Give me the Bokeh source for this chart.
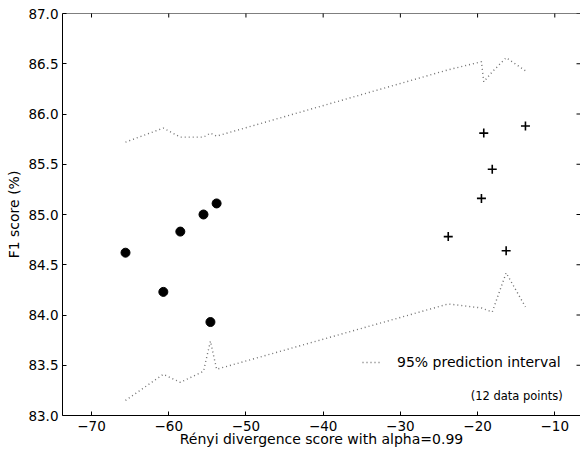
import math
from bokeh.plotting import figure
from bokeh.models import Range1d, Label, Legend, LegendItem, FixedTicker, Span
from bokeh.embed import file_html
from bokeh.resources import INLINE

# data points
renyi_dot = [-65.6, -60.7, -58.5, -55.5, -54.6, -53.8]
f1_dot = [84.62, 84.23, 84.83, 85.00, 83.93, 85.11]
renyi_plus = [-23.8, -19.5, -19.2, -18.1, -16.3, -13.8]
f1_plus = [84.78, 85.16, 85.81, 85.45, 84.64, 85.88]

# 95% prediction interval, evaluated at the sorted data x values
pi_x = [-65.6, -60.7, -58.5, -55.5, -54.6, -53.8, -23.8, -19.5, -19.2, -18.1, -16.3, -13.8]
pi_upper = [85.72, 85.86, 85.77, 85.77, 85.81, 85.78, 86.44, 86.52, 86.32, 86.42, 86.56, 86.43]
pi_lower = [83.15, 83.41, 83.33, 83.44, 83.74, 83.46, 84.11, 84.07, 84.06, 84.03, 84.42, 84.08]

x_ticks = [-70, -60, -50, -40, -30, -20, -10]
x_tick_labels = ["\u221270", "\u221260", "\u221250", "\u221240", "\u221230", "\u221220", "\u221210"]
y_ticks = [83.0, 83.5, 84.0, 84.5, 85.0, 85.5, 86.0, 86.5, 87.0]
y_tick_labels = ["83.0", "83.5", "84.0", "84.5", "85.0", "85.5", "86.0", "86.5", "87.0"]

FONT = "DejaVu Sans"

x_range = Range1d(-73.76, -6.67)
y_range = Range1d(83.0, 87.0)

p = figure(width=580, height=450, output_backend="svg", toolbar_location=None,
           x_range=x_range, y_range=y_range,
           min_border_left=62, min_border_top=13, min_border_bottom=35, min_border_right=0)
p.grid.visible = False
p.outline_line_color = None
p.background_fill_color = "white"
p.border_fill_color = "white"

for ax in (p.xaxis[0], p.yaxis[0]):
    ax.major_tick_in = 4
    ax.major_tick_out = 0
    ax.minor_tick_line_color = None
    ax.axis_line_color = "black"
    ax.axis_line_width = 1
    ax.major_tick_line_color = "black"
    ax.major_label_text_font = FONT
    ax.major_label_text_font_size = "13.5px"
    ax.major_label_text_color = "black"
    ax.axis_label_text_font = FONT
    ax.axis_label_text_font_size = "14px"
    ax.axis_label_text_font_style = "normal"
    ax.axis_label_text_color = "black"

xa = p.xaxis[0]
ya = p.yaxis[0]
xa.ticker = FixedTicker(ticks=x_ticks)
xa.major_label_overrides = {t: l for t, l in zip(x_ticks, x_tick_labels)}
ya.ticker = FixedTicker(ticks=y_ticks)
ya.major_label_overrides = {t: l for t, l in zip(y_ticks, y_tick_labels)}
xa.axis_label = "Rényi divergence score with alpha=0.99"
ya.axis_label = "F1 score (%)"
xa.major_label_standoff = 5
ya.major_label_standoff = 4
xa.axis_label_standoff = -3
ya.axis_label_standoff = 3

# top spine and inward ticks on the top and right edges (mirroring the tick lists)
p.add_layout(Span(location=y_range.end, dimension="width", line_color="black", line_width=1))
p.scatter(x_ticks, [y_range.end] * len(x_ticks), marker="dash", angle=math.pi / 2,
          size=8, line_color="black", line_width=1)
p.scatter([x_range.end] * len(y_ticks), y_ticks, marker="dash",
          size=8, line_color="black", line_width=1)

upper = p.line(pi_x, pi_upper, line_color="#707070", line_width=1.4, line_dash="1 3")
p.line(pi_x, pi_lower, line_color="#707070", line_width=1.4, line_dash="1 3")
p.scatter(renyi_dot, f1_dot, marker="circle", size=9, fill_color="black", line_color="black")
p.scatter(renyi_plus, f1_plus, marker="cross", size=9, line_color="black", line_width=1.6)

legend = Legend(items=[LegendItem(label="95% prediction interval", renderers=[upper])],
                location=(300, 43), padding=0, margin=0, border_line_color=None,
                background_fill_alpha=0, label_standoff=15, glyph_width=20, glyph_height=20,
                label_text_font=FONT, label_text_font_size="14px", label_text_color="black")
p.add_layout(legend)

p.add_layout(Label(x=-8.96, y=83.19, text="(12 data points)", text_align="right",
                   text_baseline="middle", text_font=FONT, text_font_size="11.5px",
                   text_color="black"))

open("out.html", "w").write(file_html(p, INLINE))
